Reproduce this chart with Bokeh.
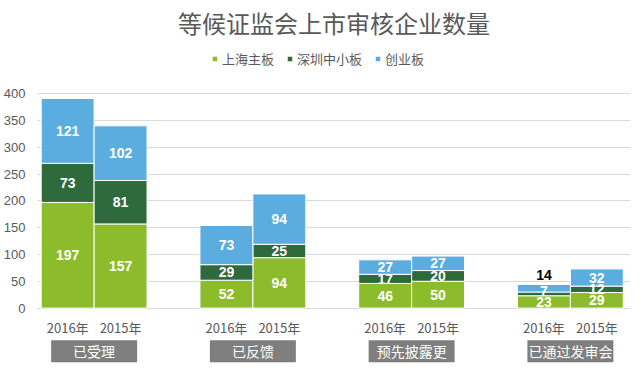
from bokeh.plotting import figure
from bokeh.models import ColumnDataSource, Range1d, FixedTicker, Legend, LegendItem
from bokeh.core.properties import value
from bokeh.embed import file_html
from bokeh.resources import INLINE

# ---- data ----
groups = ["已受理", "已反馈", "预先披露更", "已通过发审会"]
years = ["2016年", "2015年"]
shanghai = [197, 157, 52, 94, 46, 50, 23, 29]
shenzhen = [73, 81, 29, 25, 17, 20, 7, 12]
chuangye = [121, 102, 73, 94, 27, 27, 14, 32]
series_names = ["上海主板", "深圳中小板", "创业板"]
colors = ["#8CBB2B", "#2E6A3B", "#5BADE0"]
y_ticks = [0, 50, 100, 150, 200, 250, 300, 350, 400]

CJK = "Noto Sans CJK SC"
NUM = "Liberation Sans"
GRAY = "#595959"

xs = [g * 3 + j + 0.5 for g in range(len(groups)) for j in range(len(years))]
xlab = [years[j] for g in range(len(groups)) for j in range(len(years))]
gx = [g * 3 + 1 for g in range(len(groups))]

src = ColumnDataSource(dict(x=xs, sh=shanghai, sz=shenzhen, cy=chuangye, yr=xlab))

p = figure(width=640, height=371, output_backend="svg", toolbar_location=None,
           x_range=Range1d(-0.07, 11.136), y_range=Range1d(-118.3, 497.3),
           x_axis_location=None, min_border_left=0, min_border_right=10,
           min_border_bottom=0, min_border_top=0)
p.outline_line_color = None
p.background_fill_color = "white"
p.border_fill_color = "white"

p.title.text = "等候证监会上市审核企业数量"
p.title.align = "center"
p.title.text_font = CJK
p.title.text_font_size = "24px"
p.title.text_font_style = "normal"
p.title.text_color = GRAY
p.title.standoff = 4

p.xgrid.visible = False
p.ygrid.ticker = FixedTicker(ticks=y_ticks)
p.ygrid.grid_line_color = "#D9D9D9"
p.yaxis.ticker = FixedTicker(ticks=y_ticks)
p.yaxis.axis_line_color = None
p.yaxis.major_tick_line_color = None
p.yaxis.minor_tick_line_color = None
p.yaxis.major_label_text_color = GRAY
p.yaxis.major_label_text_font = NUM
p.yaxis.major_label_text_font_size = "13px"
p.yaxis.major_label_standoff = 6

rs = p.vbar_stack(["sh", "sz", "cy"], x="x", width=1.0, source=src,
                  color=colors, line_color="white", line_width=1)

legend = Legend(items=[LegendItem(label=n, renderers=[r]) for n, r in zip(series_names, rs)],
                orientation="horizontal", location=(174, 303),
                border_line_color=None, background_fill_alpha=0,
                glyph_width=7, glyph_height=7, label_standoff=4, spacing=12,
                label_text_font=CJK, label_text_font_size="13px", label_text_color=GRAY,
                padding=2, margin=0)
p.add_layout(legend)

# segment labels (a tiny middle segment gets its label lifted a little, as in the original)
wx, wy, wt, wo, bx, by, bt = [], [], [], [], [], [], []
for i, xv in enumerate(xs):
    base = 0
    segs = [shanghai[i], shenzhen[i], chuangye[i]]
    for k, v in enumerate(segs):
        if k == len(segs) - 1 and v < 20:
            bx.append(xv); by.append(base + v); bt.append(str(v))
        else:
            wx.append(xv); wy.append(base + v / 2); wt.append(str(v))
            wo.append(-3 if (k == 1 and v < 10) else 0)
        base += v
white_src = ColumnDataSource(dict(x=wx, y=wy, t=wt, o=wo))
black_src = ColumnDataSource(dict(x=bx, y=by, t=bt))
p.text(x="x", y="y", text="t", source=white_src, text_color="white",
       text_font=value(NUM), text_font_size="14px", text_font_style="bold",
       text_align="center", text_baseline="middle", y_offset="o")
p.text(x="x", y="y", text="t", source=black_src, text_color="black",
       text_font=value(NUM), text_font_size="14px", text_font_style="bold",
       text_align="center", text_baseline="bottom", y_offset=-4)

# year labels below the baseline
p.text(x="x", y=0, text="yr", source=src, text_color=GRAY,
       text_font=value(CJK), text_font_size="13px",
       text_align="center", text_baseline="top", y_offset=10)

# category boxes
gsrc = ColumnDataSource(dict(x=gx, t=groups))
p.rect(x="x", y=-80.75, width=86, height=22, width_units="screen", height_units="screen",
       source=gsrc, fill_color="#7F7F7F", line_color=None)
p.text(x="x", y=-80.75, text="t", source=gsrc, text_color="white",
       text_font=value(CJK), text_font_size="14px",
       text_align="center", text_baseline="middle")

open("out.html", "w").write(file_html(p, INLINE))
